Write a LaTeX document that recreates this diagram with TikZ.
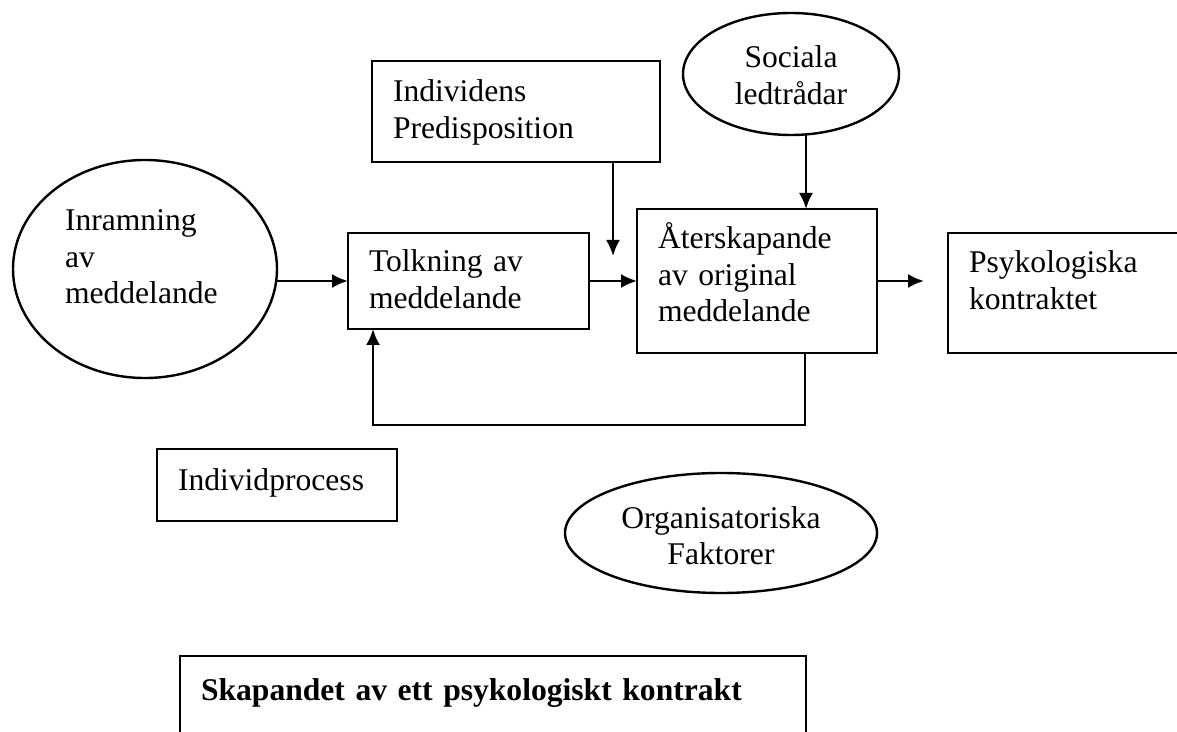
\documentclass[tikz,border=0pt]{standalone}
\usepackage{fontspec}
\setmainfont{Liberation Serif}
\usetikzlibrary{shapes.geometric,arrows.meta}

\begin{document}
\begin{tikzpicture}[x=0.5pt, y=-0.5pt, line width=1.2pt]
  \tikzset{>={Latex[length=8pt,width=7pt]}}
  \tikzset{every node/.style={font=\fontsize{15.8pt}{18.2pt}\selectfont, outer sep=0pt}}
  \tikzset{ruta/.style={draw, rectangle, anchor=north west, align=left,
      inner xsep=10.5pt, inner ysep=0pt}}
  \tikzset{rund/.style={draw, ellipse, inner sep=0pt}}
  %
  \useasboundingbox (0,0) rectangle (1177,732);
  \clip (0,0) rectangle (1177,732);
  %
  \node [rund, align=left, text width=80pt, text height=10.5pt, text depth=48.5pt,
    minimum width=132pt, minimum height=109pt] (inram) at (145,269)
    {Inramning\\av\\meddelande};
  \node [rund, align=center, text width=60pt, text height=10.5pt, text depth=16.5pt,
    minimum width=108pt, minimum height=61pt] (soc) at (791,74)
    {Sociala\\ledtrådar};
  \node [rund, align=center, text width=110pt, text height=10.5pt, text depth=15.5pt,
    minimum width=156pt, minimum height=60pt] (org) at (721,533)
    {Organisatoriska\\Faktorer};
  %
  \node [ruta, text width=123pt, text height=20.5pt, text depth=30pt] (ind) at (372,61)
    {Individens\\Predisposition};
  \node [ruta, text width=99.5pt, text height=19.5pt, text depth=28.5pt] (tolk) at (348,233)
    {Tolkning av\\meddelande};
  \node [ruta, text width=99pt, text height=20pt, text depth=52pt] (ater) at (637,209)
    {Återskapande\\av original\\meddelande};
  \node [ruta, text width=109pt, text height=20pt, text depth=40pt] (psyk) at (948,233)
    {Psykologiska\\kontraktet};
  \node [ruta, text width=99pt, text height=20.5pt, text depth=15.5pt] (proc) at (157,449)
    {Individprocess};
  \node [ruta, text width=292pt, text height=22pt, text depth=50pt,
    font=\fontsize{15.8pt}{18.2pt}\selectfont\bfseries] (titel) at (180,656)
    {Skapandet av ett psykologiskt kontrakt};
  %
  \coordinate (indpil) at (613,256);
  \coordinate (socfot) at (806,135);
  \coordinate (psykpil) at (924,281);
  \coordinate (retur) at (805,425);
  \coordinate (returv) at (373,425);
  %
  \draw [->] (tolk.west -| inram.east) -- (tolk.west);
  \draw [->] (tolk.east) -- (ater.west);
  \draw [->] (ind.south -| indpil) -- (indpil);
  \draw [->] (socfot) -- (socfot |- ater.north);
  \draw [->] (ater.east) -- (psykpil);
  \draw [->] (ater.south -| retur) -- (retur) -- (returv) -- (tolk.south -| returv);
\end{tikzpicture}
\end{document}
